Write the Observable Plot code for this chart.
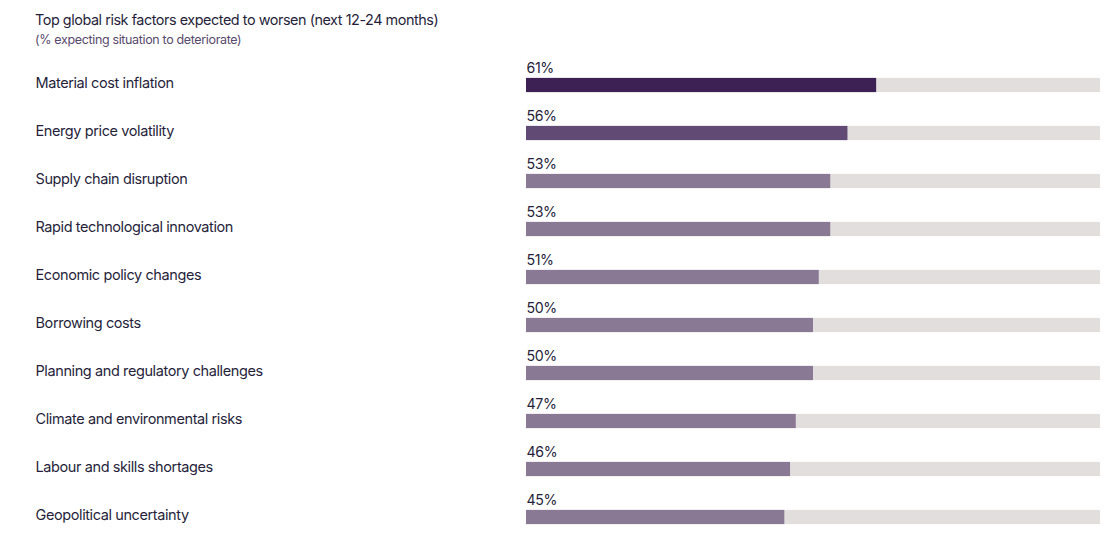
<!DOCTYPE html>
<html>
<head>
<meta charset="utf-8">
<script src="https://cdn.jsdelivr.net/npm/d3@7"></script>
<script src="https://cdn.jsdelivr.net/npm/@observablehq/plot@0.6"></script>
<style>
  html, body { margin: 0; padding: 0; background: #fff; }
  body { width: 1119px; height: 538px; overflow: hidden; font-family: Inter, "Noto Sans", sans-serif; }
  #head { height: 52px; box-sizing: border-box; padding: 11px 0 0 35px; }
  #title { font-size: 14.4px; line-height: 18px; color: #261f3a; letter-spacing: -0.45px; }
  #sub { font-size: 12.5px; line-height: 16px; margin-top: 3px; color: #574a6b; letter-spacing: -0.35px; }
</style>
</head>
<body>
<div id="head">
  <div id="title">Top global risk factors expected to worsen (next 12-24 months)</div>
  <div id="sub">(% expecting situation to deteriorate)</div>
</div>
<div id="chart"></div>
<script>
const categories = [
  "Material cost inflation",
  "Energy price volatility",
  "Supply chain disruption",
  "Rapid technological innovation",
  "Economic policy changes",
  "Borrowing costs",
  "Planning and regulatory challenges",
  "Climate and environmental risks",
  "Labour and skills shortages",
  "Geopolitical uncertainty"
];
const values = [61, 56, 53, 53, 51, 50, 50, 47, 46, 45];
const barColors = ["#3d2155", "#614b74"]; // remaining use default
const defaultColor = "#8a7995";

const data = categories.map((c, i) => ({
  cat: c,
  value: values[i],
  color: barColors[i] || defaultColor
}));

const chart = Plot.plot({
  width: 1119,
  height: 486,
  marginLeft: 526,
  marginRight: 19,
  marginTop: 0,
  marginBottom: 0,
  style: { fontFamily: "Inter, 'Noto Sans', sans-serif", background: "#fff", overflow: "visible" },
  x: { domain: [0, 100], axis: null },
  y: { type: "band", domain: categories, range: [7.0, 491.0], padding: 0, axis: null },
  marks: [
    Plot.barX(data, { y: "cat", x1: 0, x2: 100, fill: "#e1dedd", insetTop: 16.9, insetBottom: 16.9 }),
    Plot.barX(data, { y: "cat", x1: 0, x2: "value", fill: "color", insetTop: 16.9, insetBottom: 16.9 }),
    Plot.text(data, { y: "cat", x: 0, text: d => d.value + "%", textAnchor: "start", dx: 0, dy: -17.3,
      fontSize: 14.2, fill: "#261f3a" }),
    Plot.text(data, { y: "cat", text: "cat", frameAnchor: "left", textAnchor: "start", dx: -491, dy: -2,
      fontSize: 14.5, fill: "#261f3a" })
  ]
});
chart.querySelectorAll("text").forEach(t => t.style.letterSpacing = "-0.4px");
document.getElementById("chart").appendChild(chart);
</script>
</body>
</html>
